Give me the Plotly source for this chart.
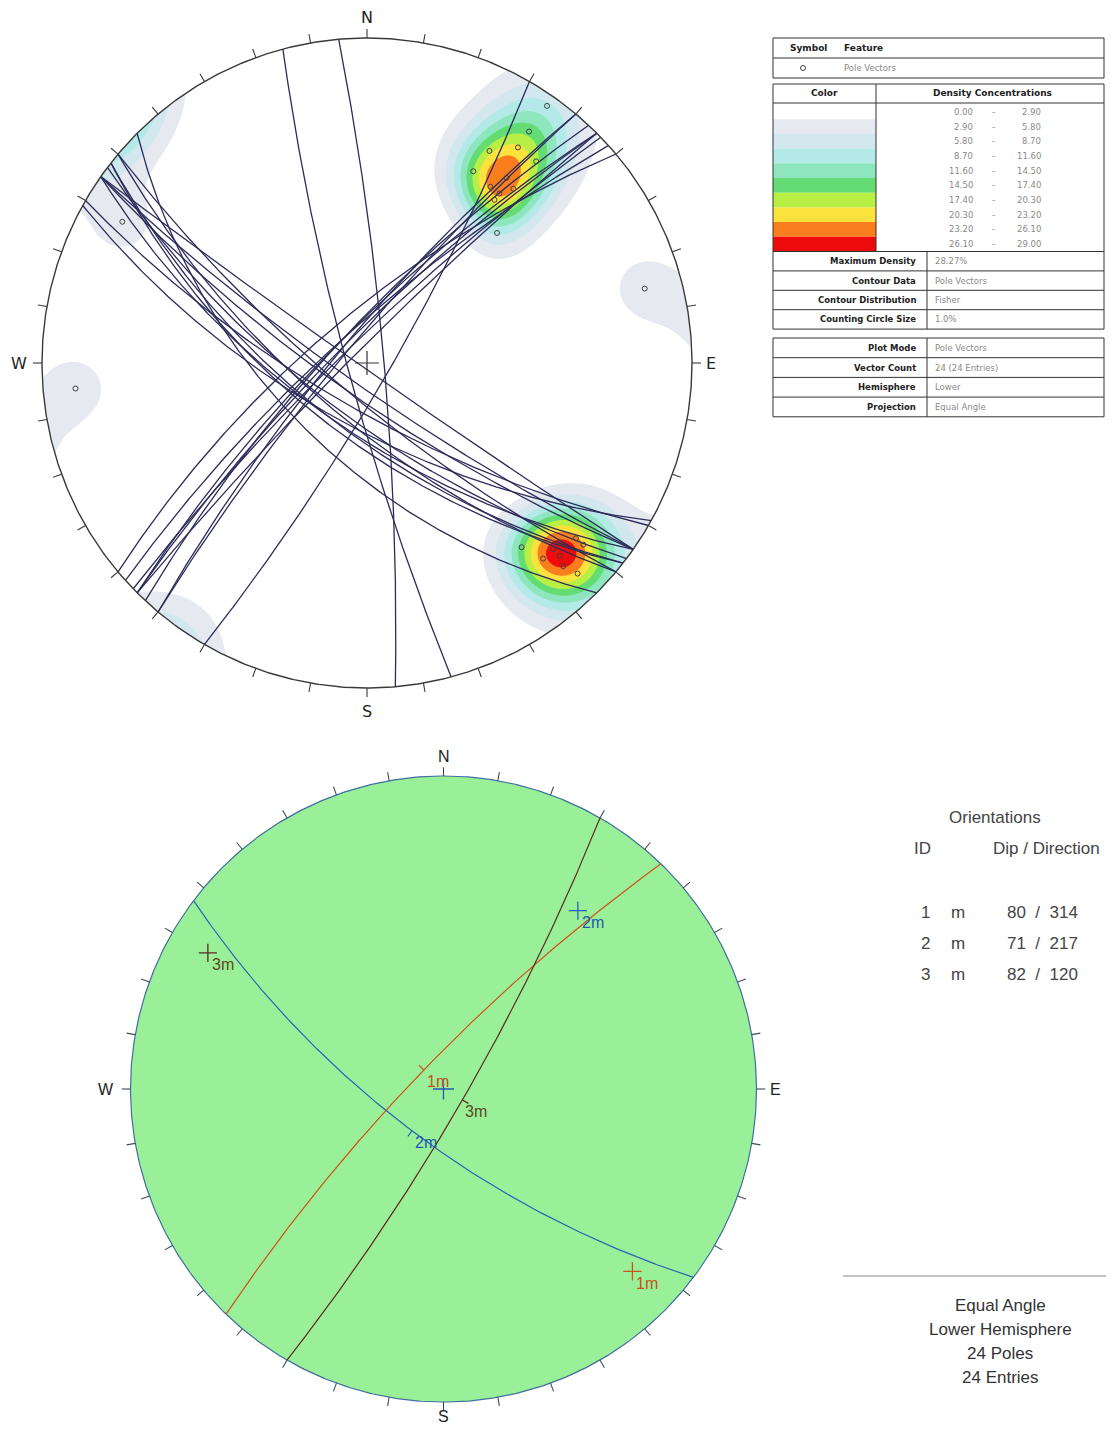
import numpy as np
import plotly.graph_objects as go

W, H = 1114, 1434
OFF = 8                      # default page body margin of the written html
FW, FH = W - OFF, H - 2 * OFF

# ---------------- data ----------------
# 24 measured planes (dip / dip direction) -> poles + great circles in the upper stereonet
plane_dips = [88, 82, 78, 74, 78, 68, 67, 70, 67, 65, 59, 71,
              73, 78, 80, 82, 78, 80, 82, 85, 78,
              84, 83, 82]
plane_dipdirs = [215, 215, 215, 210, 220, 209, 215, 220, 218, 218, 225, 217,
                 320, 313, 310, 310, 318, 315, 316, 315, 315,
                 85, 255, 120]

density_bounds = [0.00, 2.90, 5.80, 8.70, 11.60, 14.50, 17.40, 20.30, 23.20, 26.10, 29.00]
density_colors = ["#ffffff", "#e7e9f1", "#d3e7ef", "#b3e9e6", "#8ee6bf",
                  "#63dc74", "#b7ef44", "#fbe23c", "#fb7e1e", "#ee0b0b"]
max_density = 28.27

info_labels_1 = ["Maximum Density", "Contour Data", "Contour Distribution", "Counting Circle Size"]
info_values_1 = ["28.27%", "Pole Vectors", "Fisher", "1.0%"]
info_labels_2 = ["Plot Mode", "Vector Count", "Hemisphere", "Projection"]
info_values_2 = ["Pole Vectors", "24 (24 Entries)", "Lower", "Equal Angle"]

set_ids = ["1", "2", "3"]
set_types = ["m", "m", "m"]
set_dips = [80, 71, 82]
set_dipdirs = [314, 217, 120]
set_line_colors = ["#d0501e", "#2f62b5", "#5e2a18"]
set_text_colors = ["#c4521c", "#2458ad", "#5c4a1e"]

summary_lines = ["Equal Angle", "Lower Hemisphere", "24 Poles", "24 Entries"]

# ---------------- geometry helpers ----------------
def great_circle(dip, dd, n=241):
    a, d = np.radians(dd), np.radians(dip)
    s = np.array([np.sin(a - np.pi / 2), np.cos(a - np.pi / 2), 0.0])
    v = np.array([np.cos(d) * np.sin(a), np.cos(d) * np.cos(a), np.sin(d)])
    t = np.linspace(0, np.pi, n)
    Pm = np.outer(np.cos(t), s) + np.outer(np.sin(t), v)
    Dn = np.clip(Pm[:, 2], 0, None)
    return Pm[:, 0] / (1 + Dn), Pm[:, 1] / (1 + Dn)


def pole_vec(dip, dd):
    a, d = np.radians(dd), np.radians(dip)
    return np.array([-np.sin(d) * np.sin(a), -np.sin(d) * np.cos(a), np.cos(d)])


def proj(v):
    return v[0] / (1 + v[2]), v[1] / (1 + v[2])


def dip_point(dip, dd):
    a, d = np.radians(dd), np.radians(dip)
    v = np.array([np.cos(d) * np.sin(a), np.cos(d) * np.cos(a), np.sin(d)])
    return proj(v)


def P(x, y):
    """page pixel -> paper coords"""
    return (x - OFF) / FW, 1 - (y - OFF) / FH


fig = go.Figure()

# ---------------- upper stereonet ----------------
R1, CX1, CY1 = 325.0, 367.0, 363.0
poles = np.array([pole_vec(d, a) for d, a in zip(plane_dips, plane_dipdirs)])

g = np.linspace(-1.0, 1.0, 401)
GX, GY = np.meshgrid(g, g)
rho2 = GX ** 2 + GY ** 2
den = 1 + rho2
E = 2 * GX / den
N = 2 * GY / den
Dd = (1 - rho2) / den
kappa = 70.0
dots = np.abs(E[..., None] * poles[:, 0] + N[..., None] * poles[:, 1] + Dd[..., None] * poles[:, 2])
dens = np.exp(kappa * (dots - 1)).sum(-1)
inside = rho2 <= 1.0
dens = dens / dens[inside].max() * max_density
dens[~inside] = 0.0

nlev = len(density_colors)
cscale = [[k / (nlev - 1), c] for k, c in enumerate(density_colors)]
fig.add_trace(go.Contour(
    x=g, y=g, z=dens, xaxis="x", yaxis="y",
    contours=dict(start=density_bounds[1], end=density_bounds[-2], size=2.9,
                  coloring="fill", showlines=False),
    colorscale=cscale, showscale=False, line=dict(width=0, smoothing=1.0),
    hoverinfo="skip"))

gx, gy = [], []
for d, a in zip(plane_dips, plane_dipdirs):
    x, y = great_circle(d, a)
    gx += list(x) + [None]
    gy += list(y) + [None]
fig.add_trace(go.Scatter(x=gx, y=gy, mode="lines", xaxis="x", yaxis="y",
                         line=dict(color="#2c2c5a", width=1.3), hoverinfo="skip"))

th = np.linspace(0, 2 * np.pi, 721)
fig.add_trace(go.Scatter(x=np.sin(th), y=np.cos(th), mode="lines", xaxis="x", yaxis="y",
                         line=dict(color="#3a3a3a", width=1.4), hoverinfo="skip"))

tx, ty = [], []
for az in range(0, 360, 10):
    r = np.radians(az)
    tx += [np.sin(r), 1.028 * np.sin(r), None]
    ty += [np.cos(r), 1.028 * np.cos(r), None]
fig.add_trace(go.Scatter(x=tx, y=ty, mode="lines", xaxis="x", yaxis="y",
                         line=dict(color="#3a3a3a", width=1.1), hoverinfo="skip"))

px_, py_ = zip(*[proj(p) for p in poles])
fig.add_trace(go.Scatter(x=px_, y=py_, mode="markers", xaxis="x", yaxis="y",
                         marker=dict(symbol="circle-open", size=5, color="#404040",
                                     line=dict(width=1)), hoverinfo="skip"))
fig.add_trace(go.Scatter(x=[0], y=[0], mode="markers", xaxis="x", yaxis="y",
                         marker=dict(symbol="cross-thin", size=17, color="#333",
                                     line=dict(width=1.2, color="#333")), hoverinfo="skip"))

annotations = []
for lab, (x, y) in zip(["N", "E", "S", "W"], [(0, 1.062), (1.058, 0), (0, -1.072), (-1.072, 0)]):
    annotations.append(dict(text=lab, x=x, y=y, xref="x", yref="y", showarrow=False,
                            font=dict(family="DejaVu Sans", size=16, color="#222")))

# ---------------- lower stereonet ----------------
R2, CX2, CY2 = 313.0, 443.5, 1089.0
fig.add_trace(go.Scatter(x=np.sin(th), y=np.cos(th), mode="lines", xaxis="x2", yaxis="y2",
                         fill="toself", fillcolor="#9af099",
                         line=dict(color="#3f6f9f", width=1.2), hoverinfo="skip"))
fig.add_trace(go.Scatter(x=tx, y=ty, mode="lines", xaxis="x2", yaxis="y2",
                         line=dict(color="#3a4a5a", width=1.1), hoverinfo="skip"))

k1 = 1 / R2
for sid, st, d, a, lc, tc in zip(set_ids, set_types, set_dips, set_dipdirs,
                                 set_line_colors, set_text_colors):
    x, y = great_circle(d, a)
    fig.add_trace(go.Scatter(x=x, y=y, mode="lines", xaxis="x2", yaxis="y2",
                             line=dict(color=lc, width=1.2), hoverinfo="skip"))
    mx, my = dip_point(d, a)
    ar = np.radians(a)
    fig.add_trace(go.Scatter(x=[mx, mx + 0.022 * np.sin(ar)], y=[my, my + 0.022 * np.cos(ar)],
                             mode="lines", xaxis="x2", yaxis="y2",
                             line=dict(color=lc, width=1.2), hoverinfo="skip"))
    annotations.append(dict(text=sid + st, x=mx + 14 * k1, y=my - 12 * k1, xref="x2", yref="y2",
                            showarrow=False, font=dict(family="Liberation Sans", size=16, color=tc)))
    pxp, pyp = proj(pole_vec(d, a))
    fig.add_trace(go.Scatter(x=[pxp], y=[pyp], mode="markers", xaxis="x2", yaxis="y2",
                             marker=dict(symbol="cross-thin", size=13, color=lc,
                                         line=dict(width=1.3, color=lc)), hoverinfo="skip"))
    annotations.append(dict(text=sid + st, x=pxp + 15 * k1, y=pyp - 12 * k1, xref="x2", yref="y2",
                            showarrow=False, font=dict(family="Liberation Sans", size=16, color=tc)))

fig.add_trace(go.Scatter(x=[0], y=[0], mode="markers", xaxis="x2", yaxis="y2",
                         marker=dict(symbol="cross-thin", size=15, color="#2458ad",
                                     line=dict(width=1.3, color="#2458ad")), hoverinfo="skip"))

for lab, (x, y) in zip(["N", "E", "S", "W"], [(0, 1.062), (1.062, 0), (0, -1.046), (-1.078, 0)]):
    annotations.append(dict(text=lab, x=x, y=y, xref="x2", yref="y2", showarrow=False,
                            font=dict(family="Liberation Sans", size=16, color="#222")))

# ---------------- legend table (top right) ----------------
shapes = []
TR = 1104   # right edge of the tables


def rect(x0, y0, x1, y1, fill=None, lw=1, color="#333"):
    a0, b0 = P(x0, y0)
    a1, b1 = P(x1, y1)
    shapes.append(dict(type="rect", xref="paper", yref="paper", x0=a0, y0=b1, x1=a1, y1=b0,
                       line=dict(width=lw, color=color) if lw else dict(width=0),
                       fillcolor=fill if fill else "rgba(0,0,0,0)", layer="above"))


def hline(x0, x1, y, color="#333", lw=1):
    a0, b = P(x0, y)
    a1, _ = P(x1, y)
    shapes.append(dict(type="line", xref="paper", yref="paper", x0=a0, x1=a1, y0=b, y1=b,
                       line=dict(width=lw, color=color), layer="above"))


def vline(x, y0, y1, color="#333", lw=1):
    a, b0 = P(x, y0)
    _, b1 = P(x, y1)
    shapes.append(dict(type="line", xref="paper", yref="paper", x0=a, x1=a, y0=b0, y1=b1,
                       line=dict(width=lw, color=color), layer="above"))


def text(s, x, y, size=9, color="#222", xanchor="center", family="DejaVu Sans"):
    a, b = P(x, y)
    annotations.append(dict(text=s, x=a, y=b, xref="paper", yref="paper", showarrow=False,
                            xanchor=xanchor, yanchor="middle",
                            font=dict(family=family, size=size, color=color)))


TXT_GRAY = "#8a8a8a"
# box 1
rect(773, 38, TR, 78)
hline(773, TR, 58)
text("<b>Symbol</b>", 808, 48)
text("<b>Feature</b>", 863, 48)
ca, cb = P(803, 68)
shapes.append(dict(type="circle", xref="paper", yref="paper", x0=ca - 2.5 / FW, x1=ca + 2.5 / FW,
                   y0=cb - 2.5 / FH, y1=cb + 2.5 / FH, line=dict(width=1, color="#444"), layer="above"))
text("Pole Vectors", 842, 68, color=TXT_GRAY, xanchor="left", size=8.5)

# box 2
row_h = 14.7
strip_top = 104.5
for i, c in enumerate(density_colors):
    rect(773, strip_top + i * row_h, 876, strip_top + (i + 1) * row_h, fill=c, lw=0)
    yc = strip_top + (i + 0.5) * row_h
    text(f"{density_bounds[i]:.2f}", 975, yc, color=TXT_GRAY, xanchor="right", size=8.5)
    text("-", 993, yc, color=TXT_GRAY, size=8.5)
    text(f"{density_bounds[i + 1]:.2f}", 1043, yc, color=TXT_GRAY, xanchor="right", size=8.5)
box2_bot = strip_top + nlev * row_h
rect(773, 84, TR, box2_bot)
hline(773, TR, 103)
vline(876, 84, box2_bot)
text("<b>Color</b>", 824, 93)
text("<b>Density Concentrations</b>", 992, 93)

# box 3
b3_top, rh = box2_bot, 19.4
rect(773, b3_top, TR, b3_top + 4 * rh)
vline(927, b3_top, b3_top + 4 * rh)
for i, (lab, val) in enumerate(zip(info_labels_1, info_values_1)):
    if i > 0:
        hline(773, TR, b3_top + i * rh)
    yc = b3_top + (i + 0.5) * rh
    text(f"<b>{lab}</b>", 918, yc, xanchor="right", size=8.5)
    text(val, 933, yc, xanchor="left", color=TXT_GRAY, size=8.5)

# box 4
b4_top = 338
rh4 = 19.7
rect(773, b4_top, TR, b4_top + 4 * rh4)
vline(927, b4_top, b4_top + 4 * rh4)
for i, (lab, val) in enumerate(zip(info_labels_2, info_values_2)):
    if i > 0:
        hline(773, TR, b4_top + i * rh4)
    yc = b4_top + (i + 0.5) * rh4
    text(f"<b>{lab}</b>", 918, yc, xanchor="right", size=8.5)
    text(val, 933, yc, xanchor="left", color=TXT_GRAY, size=8.5)

# ---------------- orientation table (bottom right) ----------------
FAM = "Liberation Sans"
text("Orientations", 995, 817, size=17, color="#444", family=FAM)
text("ID", 922, 848, size=17, color="#444", family=FAM)
text("Dip / Direction", 1046, 848, size=17, color="#444", family=FAM)
for i, (sid, st, d, a) in enumerate(zip(set_ids, set_types, set_dips, set_dipdirs)):
    yc = 912 + i * 31
    text(sid, 925, yc, size=17, color="#444", family=FAM)
    text(st, 958, yc, size=17, color="#444", family=FAM)
    text(f"{d}  /  {a}", 1042, yc, size=17, color="#444", family=FAM)

hline(843, 1110, 1276, color="#8a8a8a", lw=1.2)
for i, s in enumerate(summary_lines):
    text(s, 1000, 1305 + i * 24, size=17, color="#333", family=FAM)


def xaxis_px(px0, px1, c, R):
    a0, _ = P(px0, 0)
    a1, _ = P(px1, 0)
    return [a0, a1], [(px0 - c) / R, (px1 - c) / R]


def yaxis_px(py0, py1, c, R):
    _, b0 = P(0, py0)
    _, b1 = P(0, py1)
    return [b1, b0], [(c - py1) / R, (c - py0) / R]


xd1, xr1 = xaxis_px(OFF, 740, CX1, R1)
yd1, yr1 = yaxis_px(OFF, 730, CY1, R1)
xd2, xr2 = xaxis_px(40, 840, CX2, R2)
yd2, yr2 = yaxis_px(736, H - OFF, CY2, R2)

fig.update_layout(
    width=FW, height=FH, autosize=False, margin=dict(l=0, r=0, t=0, b=0),
    paper_bgcolor="white", plot_bgcolor="white", showlegend=False,
    xaxis=dict(domain=xd1, range=xr1, visible=False, anchor="y"),
    yaxis=dict(domain=yd1, range=yr1, visible=False, anchor="x"),
    xaxis2=dict(domain=xd2, range=xr2, visible=False, anchor="y2"),
    yaxis2=dict(domain=yd2, range=yr2, visible=False, anchor="x2"),
    annotations=annotations, shapes=shapes,
)

fig.write_html("out.html")
